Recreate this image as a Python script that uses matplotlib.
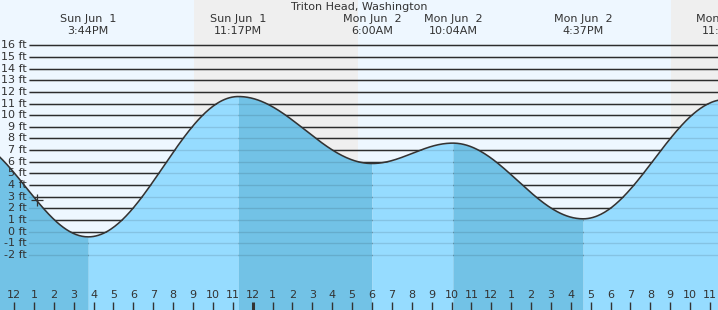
import numpy as np
import matplotlib
matplotlib.use("Agg")
import matplotlib.pyplot as plt
from matplotlib.transforms import blended_transform_factory

# ---------------- data (hours since Sun Jun 1, 12:00 PM) ----------------
title = "Triton Head, Washington"
ext_days = ["", "Sun Jun  1", "Sun Jun  1", "Mon Jun  2", "Mon Jun  2", "Mon Jun  2", "Mon Jun  2"]
ext_times = ["", "3:44PM", "11:17PM", "6:00AM", "10:04AM", "4:37PM", "11:47PM"]
ext_hours = [-2.5, 3.733, 11.283, 18.0, 22.067, 28.617, 35.78]
ext_heights = [8.0, -0.45, 11.6, 5.85, 7.6, 1.1, 11.35]

night_start = [9.05, 33.04]
night_end = [17.3, 40.0]

ft_ticks = list(range(-2, 17))
hour_ticks = list(range(0, 36))
hour_labels = ["12", "1", "2", "3", "4", "5", "6", "7", "8", "9", "10", "11"] * 3
now_hour = 1.14
now_height = 2.75

# ---------------- style ----------------
W, H = 718, 310
DPI = 100
day_bg = "#EEF7FF"
night_bg = "#EFEFEF"
rise_col = "#96DCFF"
fall_col = "#72C2E6"
ink = "#333333"
FONT = "DejaVu Sans"
FS = 8.0

x_left, x_right = -0.704, 35.40
y_bottom, y_top = -6.73, 19.89

fig = plt.figure(figsize=(W / DPI, H / DPI), dpi=DPI)
ax = fig.add_axes([0, 0, 1, 1])
ax.set_xlim(x_left, x_right)
ax.set_ylim(y_bottom, y_top)
ax.axis("off")
ax.axvspan(x_left, x_right, color=day_bg, zorder=0)
for s, e in zip(night_start, night_end):
    ax.axvspan(s, e, color=night_bg, zorder=0.5, lw=0)

# tide curve: cosine shape between successive extrema
xs, ys = [], []
for i in range(len(ext_hours) - 1):
    t0, t1 = ext_hours[i], ext_hours[i + 1]
    h0, h1 = ext_heights[i], ext_heights[i + 1]
    t = np.linspace(t0, t1, 120)
    f = (1 - np.cos(np.pi * (t - t0) / (t1 - t0))) / 2
    xs.append(t)
    ys.append(h0 + (h1 - h0) * f)
xs = np.concatenate(xs)
ys = np.concatenate(ys)

trans_xa = blended_transform_factory(ax.transAxes, ax.transData)
# grid lines (dark, below water)
line_x0 = 29 / W
for v in ft_ticks:
    ax.plot([line_x0, 1], [v, v], transform=trans_xa, color=ink, lw=1.05, zorder=1, solid_capstyle="butt")
    ax.text(27 / W, v, f"{v} ft", transform=trans_xa, ha="right", va="center",
            fontsize=FS, family=FONT, color=ink, zorder=6)

# water fill, dark where falling, light where rising
for i in range(len(ext_hours) - 1):
    m = (xs >= ext_hours[i]) & (xs <= ext_hours[i + 1])
    col = fall_col if ext_heights[i + 1] < ext_heights[i] else rise_col
    ax.fill_between(xs[m], y_bottom, ys[m], color=col, lw=0, zorder=2)

# faint lines over water
for v in ft_ticks:
    ax.plot([line_x0, 1], [v, v], transform=trans_xa, color="black", alpha=0.11, lw=1.0, zorder=3)

ax.plot(xs, ys, color=ink, lw=1.15, zorder=4)
ax.plot([now_hour], [now_height], marker="+", ms=8, mew=0.9, color=ink, zorder=5)

# header
fig.text(0.5, 1 - 7 / H, title, ha="center", va="center", fontsize=FS, family=FONT, color=ink)
trans_xf = blended_transform_factory(ax.transData, fig.transFigure)
for d, tm, hr in zip(ext_days, ext_times, ext_hours):
    if not d:
        continue
    ax.text(hr, 1 - 19 / H, d, transform=trans_xf, ha="center", va="center",
            fontsize=FS, family=FONT, color=ink, clip_on=False)
    ax.text(hr, 1 - 31 / H, tm, transform=trans_xf, ha="center", va="center",
            fontsize=FS, family=FONT, color=ink, clip_on=False)

# hour ticks
trans_xA = blended_transform_factory(ax.transData, ax.transAxes)
for hr, lab in zip(hour_ticks, hour_labels):
    thick = (hr % 24 == 12)
    ax.plot([hr, hr], [0, 8 / H], transform=trans_xA, color=ink,
            lw=2.2 if thick else 1.0, zorder=6, solid_capstyle="butt")
    ax.text(hr, 14.5 / H, lab, transform=trans_xA, ha="center", va="center",
            fontsize=FS, family=FONT, color=ink, zorder=6)

fig.savefig("out.png", dpi=DPI)
